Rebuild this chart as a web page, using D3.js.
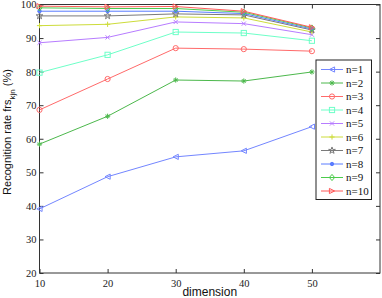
<!DOCTYPE html>
<meta charset="utf-8">
<script src="https://d3js.org/d3.v7.min.js"></script>
<style>
  body { margin: 0; background: #fff; }
</style>
<div id="my_dataviz"></div>
<script>
// dimension values on the x axis
var dimensions = [10, 20, 30, 40, 50];
var seriesNames = ["n=1","n=2","n=3","n=4","n=5","n=6","n=7","n=8","n=9","n=10"];

// recognition rate (%) per n
var n1  = [39.1, 48.7, 54.6, 56.4, 63.6];
var n2  = [58.4, 66.7, 77.5, 77.2, 79.9];
var n3  = [68.6, 77.8, 87.0, 86.7, 86.1];
var n4  = [79.7, 85.0, 91.8, 91.5, 89.2];
var n5  = [88.6, 90.2, 94.8, 94.3, 91.0];
var n6  = [93.7, 94.1, 96.3, 96.0, 91.8];
var n7  = [96.6, 96.6, 97.2, 96.9, 92.4];
var n8  = [98.0, 98.0, 98.0, 97.3, 92.7];
var n9  = [99.0, 98.8, 98.8, 97.7, 93.0];
var n10 = [99.5, 99.3, 99.4, 98.0, 93.2];

var yTicks = [20, 30, 40, 50, 60, 70, 80, 90, 100];
var xTicks = [10, 20, 30, 40, 50];

var allSeries = [n1, n2, n3, n4, n5, n6, n7, n8, n9, n10];
var colors = ["#7386ff", "#4cb84c", "#ff6a6a", "#6effc8", "#b77cff",
              "#cddc3a", "#7a7a7a", "#5a7cff", "#4ccc4c", "#ff5a5a"];
var markers = ["tril", "star", "circle", "square", "cross", "plus", "penta", "dot", "diamond", "trir"];

var serif = "'Liberation Serif', 'Times New Roman', serif";
var sans = "'Liberation Sans', Arial, sans-serif";

var margin = {top: 4.5, right: 2, bottom: 25, left: 39.5},
    width = 382 - margin.left - margin.right,
    height = 298 - margin.top - margin.bottom;

var svg = d3.select("#my_dataviz")
  .append("svg")
    .attr("width", 382)
    .attr("height", 298)
  .append("g")
    .attr("transform", "translate(" + margin.left + "," + margin.top + ")");

var xScale = d3.scaleLinear().domain([10, 60]).range([0, width]);
var yScale = d3.scaleLinear().domain([20, 100]).range([height, 0]);

// axes with inward ticks
svg.append("g")
    .attr("transform", "translate(0," + height + ")")
    .call(d3.axisBottom(xScale).tickValues(xTicks).tickSizeInner(-4).tickSizeOuter(0).tickPadding(7))
    .call(g => g.select(".domain").remove());
svg.append("g")
    .call(d3.axisTop(xScale).tickValues(xTicks).tickSizeInner(-4).tickSizeOuter(0).tickFormat(""))
    .call(g => g.select(".domain").remove());
svg.append("g")
    .call(d3.axisLeft(yScale).tickValues(yTicks).tickSizeInner(-4).tickSizeOuter(0).tickPadding(3))
    .call(g => g.select(".domain").remove());
svg.append("g")
    .attr("transform", "translate(" + width + ",0)")
    .call(d3.axisRight(yScale).tickValues(yTicks).tickSizeInner(-4).tickSizeOuter(0).tickFormat(""))
    .call(g => g.select(".domain").remove());
svg.selectAll(".tick line").attr("stroke", "#333");
svg.selectAll(".tick text")
    .style("font-family", serif)
    .style("font-size", "10.5px")
    .style("fill", "#222");

// frame
svg.append("rect")
    .attr("width", width).attr("height", height)
    .attr("fill", "none").attr("stroke", "#333").attr("stroke-width", 1);

// marker drawing
function drawMarker(g, type, color, x, y) {
  var s = 2.6;
  if (type == "circle") {
    g.append("circle").attr("cx", x).attr("cy", y).attr("r", s).attr("fill", "none").attr("stroke", color);
  } else if (type == "dot") {
    g.append("circle").attr("cx", x).attr("cy", y).attr("r", 1.7).attr("fill", color).attr("stroke", color);
  } else if (type == "square") {
    g.append("rect").attr("x", x - s).attr("y", y - s).attr("width", 2 * s).attr("height", 2 * s)
      .attr("fill", "none").attr("stroke", color);
  } else if (type == "diamond") {
    g.append("path").attr("d", "M" + x + "," + (y - s - 0.5) + "L" + (x + s) + "," + y + "L" + x + "," + (y + s + 0.5) + "L" + (x - s) + "," + y + "Z")
      .attr("fill", "none").attr("stroke", color);
  } else if (type == "tril") {
    g.append("path").attr("d", "M" + (x - s) + "," + y + "L" + (x + s) + "," + (y - s) + "L" + (x + s) + "," + (y + s) + "Z")
      .attr("fill", "none").attr("stroke", color);
  } else if (type == "trir") {
    g.append("path").attr("d", "M" + (x + s) + "," + y + "L" + (x - s) + "," + (y - s) + "L" + (x - s) + "," + (y + s) + "Z")
      .attr("fill", "none").attr("stroke", color);
  } else if (type == "plus") {
    g.append("path").attr("d", "M" + (x - s) + "," + y + "H" + (x + s) + "M" + x + "," + (y - s) + "V" + (y + s))
      .attr("stroke", color);
  } else if (type == "cross") {
    var c = s * 0.8;
    g.append("path").attr("d", "M" + (x - c) + "," + (y - c) + "L" + (x + c) + "," + (y + c) + "M" + (x - c) + "," + (y + c) + "L" + (x + c) + "," + (y - c))
      .attr("stroke", color);
  } else if (type == "star") {
    var c2 = s * 0.7;
    g.append("path").attr("d", "M" + (x - s) + "," + y + "H" + (x + s) + "M" + x + "," + (y - s) + "V" + (y + s) +
      "M" + (x - c2) + "," + (y - c2) + "L" + (x + c2) + "," + (y + c2) + "M" + (x - c2) + "," + (y + c2) + "L" + (x + c2) + "," + (y - c2))
      .attr("stroke", color);
  } else if (type == "penta") {
    g.append("path").attr("d", d3.symbol().type(d3.symbolStar).size(14)())
      .attr("transform", "translate(" + x + "," + y + ")")
      .attr("fill", "none").attr("stroke", color);
  }
}

var lineFun = d3.line()
    .x(function(d, i) { return xScale(dimensions[i]); })
    .y(function(d) { return yScale(d); });

var plot = svg.append("g");
allSeries.forEach(function(vals, k) {
  plot.append("path")
    .attr("d", lineFun(vals))
    .attr("fill", "none")
    .attr("stroke", colors[k])
    .attr("stroke-width", 1);
  vals.forEach(function(v, i) {
    drawMarker(plot, markers[k], colors[k], xScale(dimensions[i]), yScale(v));
  });
});

// labels
svg.append("text")
    .attr("x", width / 2).attr("y", height + 23)
    .attr("text-anchor", "middle")
    .style("font-family", sans)
    .style("font-size", "12px")
    .style("fill", "#111")
    .text("dimension");

var yl = svg.append("text")
    .attr("transform", "translate(-28.5,127.5) rotate(-90)")
    .attr("text-anchor", "middle")
    .style("font-family", sans)
    .style("font-size", "11px")
    .style("fill", "#111");
yl.append("tspan").text("Recognition rate frs");
yl.append("tspan").attr("dy", 4).style("font-size", "8px").text("kjn");
yl.append("tspan").attr("dy", -4).text(" (%)");

// legend
var legX = 316 - margin.left, legY = 60 - margin.top;
var legend = svg.append("g");
legend.append("rect")
    .attr("x", legX).attr("y", legY)
    .attr("width", 55.5).attr("height", 139.5)
    .attr("fill", "#fff").attr("stroke", "#222");
seriesNames.forEach(function(name, k) {
  var yy = legY + 9.5 + k * 13.5;
  legend.append("line")
    .attr("x1", legX + 5).attr("x2", legX + 27)
    .attr("y1", yy).attr("y2", yy)
    .attr("stroke", colors[k]);
  drawMarker(legend, markers[k], colors[k], legX + 16, yy);
  legend.append("text")
    .attr("x", legX + 30).attr("y", yy + 3.5)
    .style("font-family", serif)
    .style("font-size", "11px")
    .style("fill", "#111")
    .text(name);
});
</script>
